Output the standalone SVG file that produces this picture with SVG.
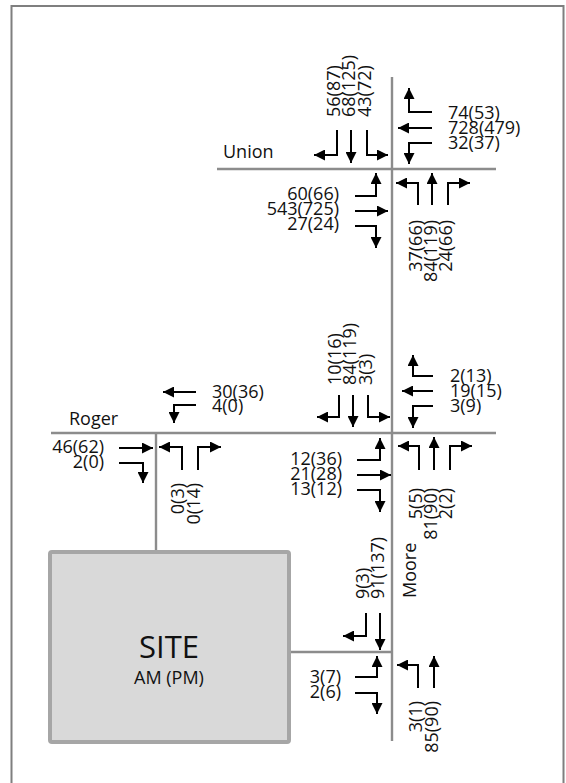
<svg xmlns="http://www.w3.org/2000/svg" width="566" height="783" viewBox="0 0 566 783">
<style>
.road{stroke:#8c8c8c;stroke-width:2.4;fill:none}
.arr{stroke:#000;stroke-width:2;fill:none;marker-end:url(#ah)}
text{font-family:"Open Sans","Liberation Sans",sans-serif;font-size:18px;fill:#111}
.e{text-anchor:end}
</style>
<defs>
<marker id="ah" markerUnits="userSpaceOnUse" markerWidth="12" markerHeight="11" refX="11" refY="5.5" orient="auto">
<path d="M0,0 L11,5.5 L0,11 z" fill="#000"/>
</marker>
</defs>
<rect x="11.5" y="6" width="552" height="800" fill="#fff" stroke="#7f7f7f" stroke-width="2"/>
<g id="roads">
<path class="road" d="M392,77 V741"/>
<path class="road" d="M217,169 H496"/>
<path class="road" d="M51,433 H496"/>
<path class="road" d="M156,433 V551"/>
<path class="road" d="M289,652 H392"/>
</g>
<g id="site">
<rect x="50" y="552" width="239" height="190" rx="2" fill="#d9d9d9" stroke="#a6a6a6" stroke-width="4"/>
<text x="169" y="658" text-anchor="middle" style="font-size:31px">SITE</text>
<text x="169" y="684" text-anchor="middle" style="font-size:18px">AM (PM)</text>
</g>
<g id="street-labels">
<text x="223" y="158">Union</text>
<text x="69" y="425">Roger</text>
<text transform="translate(416,598) rotate(-90)">Moore</text>
</g>
<g id="connectors">
<!-- Union SB -->
<path class="arr" d="M337,130 V155 H314"/>
<path class="arr" d="M351,130 V163"/>
<path class="arr" d="M367,130 V155 H388"/>
<!-- Union WB -->
<path class="arr" d="M432,112 H409 V88"/>
<path class="arr" d="M432,128 H398"/>
<path class="arr" d="M432,143 H409 V164"/>
<!-- Union EB -->
<path class="arr" d="M355,196 H376 V173"/>
<path class="arr" d="M355,211 H388"/>
<path class="arr" d="M355,226 H376 V248"/>
<!-- Union NB -->
<path class="arr" d="M418,205 V183 H396"/>
<path class="arr" d="M432,205 V173"/>
<path class="arr" d="M448,205 V183 H470"/>
<!-- Roger/Moore SB -->
<path class="arr" d="M339,395 V417 H317"/>
<path class="arr" d="M353,395 V427"/>
<path class="arr" d="M368,395 V417 H390"/>
<!-- Roger/Moore WB -->
<path class="arr" d="M433,376 H413 V355"/>
<path class="arr" d="M433,391 H402"/>
<path class="arr" d="M433,406 H413 V428"/>
<!-- Roger/Moore EB -->
<path class="arr" d="M357,460 H380 V438"/>
<path class="arr" d="M357,475 H391"/>
<path class="arr" d="M357,490 H380 V512"/>
<!-- Roger/Moore NB -->
<path class="arr" d="M419,470 V446 H398"/>
<path class="arr" d="M434,470 V437"/>
<path class="arr" d="M450,470 V446 H472"/>
<!-- Roger/Site WB -->
<path class="arr" d="M196,392 H163"/>
<path class="arr" d="M196,405 H174 V423"/>
<!-- Roger/Site EB -->
<path class="arr" d="M119,448 H153"/>
<path class="arr" d="M119,463 H143 V483"/>
<!-- Roger/Site NB -->
<path class="arr" d="M182,470 V447 H159"/>
<path class="arr" d="M198,470 V447 H221"/>
<!-- Driveway SB -->
<path class="arr" d="M366,613 V636 H343"/>
<path class="arr" d="M380,613 V650"/>
<!-- Driveway EB -->
<path class="arr" d="M355,677 H377 V656"/>
<path class="arr" d="M355,693 H377 V714"/>
<!-- Driveway NB -->
<path class="arr" d="M418,688 V665 H397"/>
<path class="arr" d="M434,688 V656"/>
</g>
<g id="union-intersection">
<text transform="translate(340,117) rotate(-90)">56(87)</text>
<text transform="translate(355,117) rotate(-90)">68(125)</text>
<text transform="translate(371,117) rotate(-90)">43(72)</text>
<text x="448" y="119">74(53)</text>
<text x="448" y="134">728(479)</text>
<text x="448" y="149">32(37)</text>
<text class="e" x="339" y="200">60(66)</text>
<text class="e" x="339" y="215">543(725)</text>
<text class="e" x="339" y="230">27(24)</text>
<text class="e" transform="translate(422,220) rotate(-90)">37(66)</text>
<text class="e" transform="translate(437,220) rotate(-90)">84(119)</text>
<text class="e" transform="translate(452,220) rotate(-90)">24(66)</text>
</g>
<g id="roger-moore-intersection">
<text transform="translate(341,385) rotate(-90)">10(16)</text>
<text transform="translate(356,385) rotate(-90)">84(119)</text>
<text transform="translate(372,385) rotate(-90)">3(3)</text>
<text x="450" y="382">2(13)</text>
<text x="450" y="397">19(15)</text>
<text x="450" y="412">3(9)</text>
<text class="e" x="342" y="465">12(36)</text>
<text class="e" x="342" y="480">21(28)</text>
<text class="e" x="342" y="495">13(12)</text>
<text class="e" transform="translate(422,488) rotate(-90)">5(5)</text>
<text class="e" transform="translate(437,488) rotate(-90)">81(90)</text>
<text class="e" transform="translate(452,488) rotate(-90)">2(2)</text>
</g>
<g id="roger-site-intersection">
<text x="212" y="398">30(36)</text>
<text x="212" y="412">4(0)</text>
<text class="e" x="104" y="453">46(62)</text>
<text class="e" x="104" y="468">2(0)</text>
<text class="e" transform="translate(184,483) rotate(-90)">0(3)</text>
<text class="e" transform="translate(200,483) rotate(-90)">0(14)</text>
</g>
<g id="driveway-intersection">
<text transform="translate(369,599) rotate(-90)">9(3)</text>
<text transform="translate(384,599) rotate(-90)">91(137)</text>
<text class="e" x="341" y="683">3(7)</text>
<text class="e" x="341" y="698">2(6)</text>
<text class="e" transform="translate(422,701) rotate(-90)">3(1)</text>
<text class="e" transform="translate(438,701) rotate(-90)">85(90)</text>
</g>
</svg>
